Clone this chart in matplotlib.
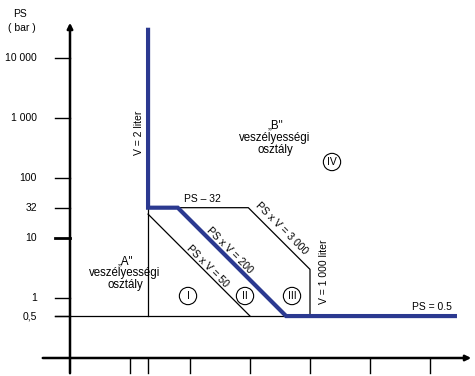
import matplotlib.pyplot as plt
import numpy as np

# -------------------------------------
# Data (V in liter, PS in bar)
# -------------------------------------
ps_ticks = [10000, 1000, 100, 32, 10, 1, 0.5]
ps_labels = ["10 000", "1 000", "100", "32", "10", "1", "0,5"]
v_ticks = [1, 2, 10, 100, 1000, 10000, 100000]

# blue border between category A and B
blue_v = [2, 2, 6.25, 400, 260000]
blue_ps = [29500, 32, 32, 0.5, 0.5]

# PS = 32 and PS x V = 3000 and V = 1000 liter
cat3_v = [6.25, 93.75, 1000, 1000]
cat3_ps = [32, 32, 3, 0.5]

# PS x V = 50
cat1_v = [2, 100]
cat1_ps = [25, 0.5]

# V = 2 liter (thin part below PS = 32)
v2_v = [2, 2]
v2_ps = [32, 0.5]

# PS = 0.5 thin line
half_v = [10 ** -1.25, 400]
half_ps = [0.5, 0.5]

BLUE = "#2b3990"
FONT = "Liberation Sans"

fig = plt.figure(figsize=(4.75, 3.76), dpi=100)
ax = fig.add_axes([0, 0, 1, 1])
ax.set_xscale("log")
ax.set_yscale("log")
ax.set_xlim(10 ** (-130 / 60), 10 ** (345 / 60))
ax.set_ylim(10 ** (-78 / 60), 10 ** (298 / 60))
ax.axis("off")

# axes with arrows
ax.annotate("", xy=(10 ** (344 / 60), 0.1), xytext=(10 ** -1.5, 0.1),
            arrowprops=dict(arrowstyle="-|>", lw=1.8, color="black", mutation_scale=8))
ax.annotate("", xy=(0.1, 10 ** (278 / 60)), xytext=(0.1, 10 ** (-78 / 60)),
            arrowprops=dict(arrowstyle="-|>", lw=1.8, color="black", mutation_scale=8))

# ticks
for p, lab in zip(ps_ticks, ps_labels):
    lw = 2 if p == 10 else 1
    ax.plot([10 ** -1.25, 0.1], [p, p], color="black", lw=lw)
    ax.text(10 ** -1.55, p, lab, ha="right", va="center", fontsize=7.5, family=FONT)
for v in v_ticks:
    ax.plot([v, v], [0.1, 10 ** -1.25], color="black", lw=1)

ax.text(10 ** (-110 / 60), 10 ** (284 / 60), "PS", ha="center", va="center", fontsize=7.5, family=FONT)
ax.text(10 ** (-108 / 60), 10 ** (270 / 60), "( bar )", ha="center", va="center", fontsize=7.5, family=FONT)

# boundary lines
ax.plot(half_v, half_ps, color="black", lw=0.9)
ax.plot(v2_v, v2_ps, color="black", lw=0.9)
ax.plot(cat1_v, cat1_ps, color="black", lw=0.9)
ax.plot(cat3_v, cat3_ps, color="black", lw=0.9)
ax.plot(blue_v, blue_ps, color=BLUE, lw=3, solid_joinstyle="miter")

# labels
def px(x, y):
    return 10 ** ((x - 130) / 60), 10 ** ((298 - y) / 60)

ax.text(*px(139, 133), "V = 2 liter", rotation=90, ha="center", va="center", fontsize=7.5, family=FONT)
ax.text(*px(275, 138), "\u201eB\"\nveszélyességi\nosztály", ha="center", va="center",
        fontsize=8.3, family=FONT, linespacing=1.0)
ax.text(*px(125, 273), "\u201eA\"\nveszélyességi\nosztály", ha="center", va="center",
        fontsize=8.3, family=FONT, linespacing=1.0)
ax.text(*px(202, 199), "PS – 32", ha="center", va="center", fontsize=7.5, family=FONT)
ax.text(*px(282, 228), "PS x V = 3 000", rotation=-45, ha="center", va="center", fontsize=7.5, family=FONT)
ax.text(*px(230, 250), "PS x V = 200", rotation=-45, ha="center", va="center", fontsize=7.5, family=FONT)
ax.text(*px(208, 266), "PS x V = 50", rotation=-45, ha="center", va="center", fontsize=7.5, family=FONT)
ax.text(*px(324, 272), "V = 1 000 liter", rotation=90, ha="center", va="center", fontsize=7.5, family=FONT)
ax.text(*px(432, 307), "PS = 0.5", ha="center", va="center", fontsize=7.5, family=FONT)

for (x, y), lab in zip([(188, 296), (245, 296), (292, 296), (332, 162)], ["I", "II", "III", "IV"]):
    ax.text(*px(x, y), lab, ha="center", va="center", fontsize=7.5, family=FONT,
            bbox=dict(boxstyle="circle,pad=0.35", fc="white", ec="black", lw=0.8))

fig.savefig("out.png", dpi=100)
